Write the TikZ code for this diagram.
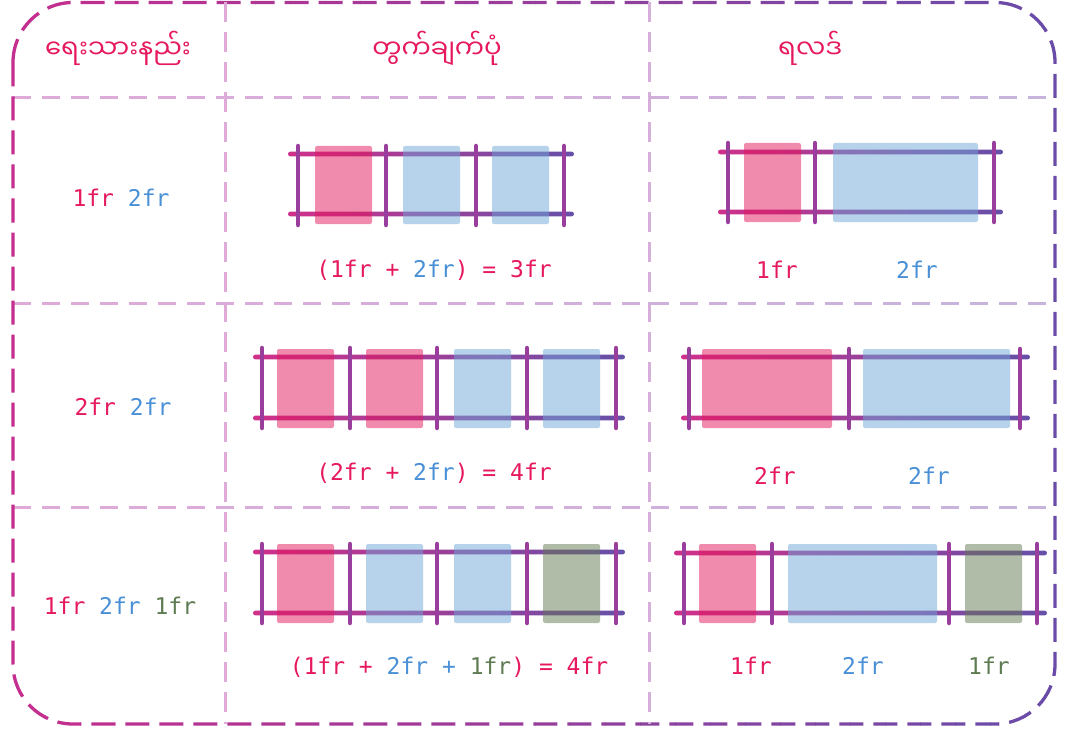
\documentclass[tikz,border=0pt]{standalone}
\usepackage{fontspec}
\newfontfamily\myanfont[Script=Myanmar]{Noto Sans Myanmar UI}
\newfontfamily\codefont{DejaVu Sans Mono}
\definecolor{frpink}{HTML}{C42E8E}
\definecolor{frpurple}{HTML}{6A4CA8}
\definecolor{lnpink}{HTML}{DFAAD8}
\definecolor{lnlav}{HTML}{C6B4DC}
\definecolor{txpink}{HTML}{E6195E}
\definecolor{txblue}{HTML}{4A90D6}
\definecolor{txgreen}{HTML}{5E7B52}
\definecolor{cellpink}{HTML}{E2185C}
\definecolor{cellblue}{HTML}{6FA7D7}
\definecolor{cellgreen}{HTML}{617951}
\definecolor{trackpink}{HTML}{D0308A}
\definecolor{trackpurple}{HTML}{6650A8}
\definecolor{trackmid}{HTML}{9A3E9E}
\newcommand{\pk}[1]{\textcolor{txpink}{#1}}
\newcommand{\bl}[1]{\textcolor{txblue}{#1}}
\newcommand{\gr}[1]{\textcolor{txgreen}{#1}}
% two horizontal track bars: x from, x to, y top, y bottom
\newcommand{\trackbars}[4]{%
	\shade[left color=trackpink,right color=trackpurple,rounded corners=2.4pt] (#1,{#3-2.4}) rectangle (#2,{#3+2.4});
	\shade[left color=trackpink,right color=trackpurple,rounded corners=2.4pt] (#1,{#4-2.4}) rectangle (#2,{#4+2.4});}
\begin{document}
\begin{tikzpicture}[x=1pt,y=-1pt,
	head/.style={font=\myanfont\fontsize{26}{30}\selectfont,text=txpink},
	code/.style={font=\codefont\fontsize{23}{26}\selectfont,text=txpink},
	gridbar/.style={draw=trackmid,line width=4.5pt,line cap=round},
	pinkcell/.style={fill=cellpink,fill opacity=.5,rounded corners=2pt},
	bluecell/.style={fill=cellblue,fill opacity=.5,rounded corners=2pt},
	greencell/.style={fill=cellgreen,fill opacity=.5,rounded corners=2pt}]
	\useasboundingbox (0,0) rectangle (1065,730);

	% table lines and frame, coloured strip by strip
	\foreach \i in {0,...,29}{
		\pgfmathsetmacro\xa{10+35*\i}
		\pgfmathsetmacro\xb{\xa+35.5}
		\pgfmathtruncatemacro\pc{100-\i*100/29}
		\begin{scope}
			\clip (\xa,0) rectangle (\xb,730);
			\foreach \y in {98,303,507}
				\draw[lnpink!\pc!lnlav,line width=3pt,dash pattern=on 18pt off 11pt] (13,\y) -- (1055,\y);
			\draw[frpink!\pc!frpurple,line width=3.3pt,dash pattern=on 24pt off 10pt,rounded corners=60pt] (13,2.5) rectangle (1055,724);
		\end{scope}
	}
	\draw[lnpink,line width=3pt,dash pattern=on 20pt off 10pt] (225,2) -- (225,724);
	\draw[lnpink!60!lnlav,line width=3pt,dash pattern=on 20pt off 10pt] (649,2) -- (649,724);

	% headings
	\node[head] (hwrite) at (118,48) {ရေးသားနည်း};
	\node[head] (hcalc) at (437,48) {တွက်ချက်ပုံ};
	\node[head] (hres) at (810,48) {ရလဒ်};

	% row 1
	\node[code] (w1) at (121,198) {\pk{1fr} \bl{2fr}};
	\trackbars{288}{574}{154}{214}
	\foreach \x in {298,386,476,564}
		\draw[gridbar] (\x,146) -- (\x,225);
	\fill[pinkcell] (315,146) rectangle (372,224);
	\fill[bluecell] (403,146) rectangle (460,224);
	\fill[bluecell] (492,146) rectangle (549,224);
	\node[code] (c1) at (434,270) {\pk{(1fr + }\bl{2fr}\pk{) = 3fr}};
	\trackbars{718}{1003}{152}{212}
	\foreach \x in {728,815,994}
		\draw[gridbar] (\x,143) -- (\x,222);
	\fill[pinkcell] (744,143) rectangle (801,222);
	\fill[bluecell] (833,143) rectangle (978,222);
	\node[code] (r1a) at (777,270) {1fr};
	\node[code,text=txblue] (r1b) at (917,270) {2fr};

	% row 2
	\node[code] (w2) at (123,407) {\pk{2fr} \bl{2fr}};
	\trackbars{253}{625}{357}{418}
	\foreach \x in {262,350,437,527,616}
		\draw[gridbar] (\x,348) -- (\x,428);
	\fill[pinkcell] (277,349) rectangle (334,428);
	\fill[pinkcell] (366,349) rectangle (423,428);
	\fill[bluecell] (454,349) rectangle (511,428);
	\fill[bluecell] (543,349) rectangle (600,428);
	\node[code] (c2) at (434,473) {\pk{(2fr + }\bl{2fr}\pk{) = 4fr}};
	\trackbars{681}{1030}{357}{418}
	\foreach \x in {689,849,1020}
		\draw[gridbar] (\x,349) -- (\x,428);
	\fill[pinkcell] (702,349) rectangle (832,428);
	\fill[bluecell] (863,349) rectangle (1010,428);
	\node[code] (r2a) at (775,476) {2fr};
	\node[code,text=txblue] (r2b) at (929,476) {2fr};

	% row 3
	\node[code] (w3) at (120,606) {\pk{1fr} \bl{2fr} \gr{1fr}};
	\trackbars{253}{625}{552}{613}
	\foreach \x in {262,350,437,527,616}
		\draw[gridbar] (\x,544) -- (\x,623);
	\fill[pinkcell] (277,544) rectangle (334,623);
	\fill[bluecell] (366,544) rectangle (423,623);
	\fill[bluecell] (454,544) rectangle (511,623);
	\fill[greencell] (543,544) rectangle (600,623);
	\node[code] (c3) at (449,667) {\pk{(1fr + }\bl{2fr + }\gr{1fr}\pk{) = 4fr}};
	\trackbars{674}{1047}{553}{613}
	\foreach \x in {684,772,949,1037}
		\draw[gridbar] (\x,544) -- (\x,623);
	\fill[pinkcell] (699,544) rectangle (756,623);
	\fill[bluecell] (788,544) rectangle (937,623);
	\fill[greencell] (965,544) rectangle (1022,623);
	\node[code] (r3a) at (751,666) {1fr};
	\node[code,text=txblue] (r3b) at (863,666) {2fr};
	\node[code,text=txgreen] (r3c) at (989,666) {1fr};
\end{tikzpicture}
\end{document}
